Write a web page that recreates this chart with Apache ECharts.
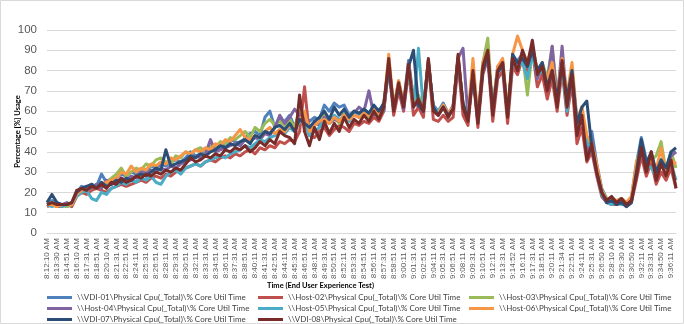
<!DOCTYPE html>
<html>
<head>
<meta charset="utf-8">
<script src="https://cdn.jsdelivr.net/npm/echarts@6/dist/echarts.min.js"></script>
<style>html,body{margin:0;padding:0;background:#fff}#c{width:684px;height:324px}</style>
</head>
<body>
<div id="c"></div>
<script>
const tickLabels = ['8:12:10 AM','8:13:30 AM','8:14:51 AM','8:16:10 AM','8:17:31 AM','8:18:51 AM','8:20:10 AM','8:21:31 AM','8:22:51 AM','8:24:11 AM','8:25:31 AM','8:26:51 AM','8:28:11 AM','8:29:31 AM','8:30:51 AM','8:32:11 AM','8:33:31 AM','8:34:51 AM','8:36:11 AM','8:37:31 AM','8:38:51 AM','8:40:11 AM','8:41:31 AM','8:42:51 AM','8:44:11 AM','8:45:31 AM','8:46:51 AM','8:48:11 AM','8:49:31 AM','8:50:51 AM','8:52:11 AM','8:53:31 AM','8:54:51 AM','8:56:11 AM','8:57:31 AM','8:58:51 AM','9:00:11 AM','9:01:31 AM','9:02:51 AM','9:04:11 AM','9:05:31 AM','9:06:51 AM','9:08:11 AM','9:09:31 AM','9:10:51 AM','9:12:11 AM','9:13:31 AM','9:14:52 AM','9:16:11 AM','9:17:31 AM','9:18:51 AM','9:20:11 AM','9:21:34 AM','9:22:51 AM','9:24:11 AM','9:25:31 AM','9:26:50 AM','9:28:10 AM','9:29:30 AM','9:30:50 AM','9:32:11 AM','9:33:31 AM','9:34:50 AM','9:36:11 AM'];

const seriesNames = ['\\\\VDI-01\\Physical Cpu(_Total)\\% Core Util Time','\\\\Host-02\\Physical Cpu(_Total)\\% Core Util Time','\\\\Host-03\\Physical Cpu(_Total)\\% Core Util Time','\\\\Host-04\\Physical Cpu(_Total)\\% Core Util Time','\\\\Host-05\\Physical Cpu(_Total)\\% Core Util Time','\\\\Host-06\\Physical Cpu(_Total)\\% Core Util Time','\\\\VDI-07\\Physical Cpu(_Total)\\% Core Util Time','\\\\VDI-08\\Physical Cpu(_Total)\\% Core Util Time'];

const vdi01 = [15,16,14,14,13,14,20,23,22,24,23,29,25,26,27,29,
28,30,29,31,30,33,32,34,33,35,36,35,37,40,38,39,
41,40,43,42,44,46,45,44,47,49,50,48,57,60,52,56,
55,58,52,60,58,55,57,56,63,60,64,62,63,58,60,57,
60,58,61,59,62,80,63,72,64,85,66,62,61,82,63,60,
64,59,62,84,63,58,78,57,80,86,62,82,83,60,84,85,
88,84,92,80,78,72,82,66,86,64,80,55,60,42,50,34,
22,17,16,15,16,15,17,34,47,36,38,30,36,32,38,40];
const host02 = [13,14,13,13,14,13,18,20,19,21,22,21,20,22,23,24,
23,24,25,26,25,27,28,27,29,28,30,31,32,33,34,33,
35,36,35,37,38,37,39,38,40,41,39,42,41,43,42,45,
44,46,45,50,72,48,47,50,52,48,51,53,52,50,54,53,
55,54,57,55,60,82,58,70,60,80,58,62,57,84,56,55,
58,55,57,84,58,53,78,52,78,86,55,76,80,54,82,78,
86,80,90,72,78,66,76,60,80,58,74,44,52,35,40,28,
18,15,14,14,15,13,15,26,38,28,35,24,30,26,32,22];
const host03 = [14,15,14,14,13,14,19,21,22,22,24,23,25,27,29,32,
28,30,32,31,34,33,36,37,35,34,38,37,40,39,41,42,
40,43,42,45,44,47,46,48,50,47,52,50,54,56,53,55,
53,56,52,60,56,52,54,53,58,55,57,54,59,56,60,58,
59,57,62,58,64,84,61,75,63,84,64,68,62,85,61,59,
63,58,62,87,64,56,82,55,84,96,60,81,85,58,86,82,
88,68,90,80,84,76,92,68,84,66,78,52,62,45,44,32,
21,17,16,16,17,15,16,30,40,34,36,38,45,30,40,32];
const host04 = [14,14,15,14,15,14,20,22,23,22,24,22,26,24,25,27,
26,28,27,30,29,31,30,32,31,33,32,34,35,36,38,37,
39,46,40,41,42,43,44,43,46,45,47,46,49,48,52,58,
54,57,61,58,56,50,55,53,57,54,56,55,58,57,59,62,
60,70,58,61,60,84,62,73,61,84,63,64,60,85,61,58,
62,58,63,86,91,57,80,56,82,88,60,80,84,59,85,82,
88,82,92,76,82,74,92,65,92,64,80,50,58,40,46,30,
20,16,15,15,16,14,16,30,40,32,38,30,35,30,38,40];
const host05 = [14,13,14,13,14,14,18,20,21,17,16,20,19,22,23,25,
24,26,25,27,26,28,25,24,28,30,31,29,32,33,34,33,
35,36,37,38,37,39,40,41,43,42,44,46,45,47,48,50,
49,52,50,55,54,48,50,52,56,54,58,56,57,55,59,58,
61,59,62,60,63,84,62,74,63,80,62,91,61,84,62,60,
63,57,62,86,63,58,80,56,83,88,61,80,82,60,84,82,
84,76,88,78,80,74,78,64,82,60,78,52,56,44,42,32,
19,15,14,15,14,14,16,30,44,34,32,28,36,30,34,26];
const host06 = [14,14,13,14,14,14,19,21,22,23,22,24,25,26,27,30,
29,33,30,32,31,34,33,35,34,37,36,38,40,39,41,40,
42,41,44,43,46,45,48,51,47,46,48,47,50,52,49,51,
50,53,51,55,60,50,53,55,56,54,57,55,58,56,58,57,
59,58,61,59,63,88,62,75,64,82,63,65,61,85,60,59,
63,59,62,87,63,57,86,56,84,90,60,82,86,60,88,97,
90,84,92,80,82,76,84,66,86,68,84,56,62,48,44,34,
21,16,17,16,17,15,18,35,42,33,37,31,42,28,36,34];
const vdi07 = [15,19,15,14,14,15,20,22,23,24,22,25,23,24,26,25,
27,26,28,29,28,30,32,31,41,33,34,35,36,38,37,39,
38,40,41,43,42,44,43,45,46,44,48,47,50,49,52,53,
51,54,50,56,54,52,55,57,60,56,62,58,61,57,60,59,
61,59,63,60,64,82,61,72,63,82,90,63,60,84,62,58,
62,58,61,86,64,56,78,55,80,88,60,79,83,58,88,84,
86,82,90,80,84,72,80,66,84,66,80,54,62,65,42,30,
20,15,16,14,15,13,15,30,46,34,40,30,36,32,40,42];
const vdi08 = [14,15,14,14,14,15,21,22,21,23,22,24,22,25,24,27,
25,26,28,27,29,28,30,29,31,30,32,31,34,37,35,36,
38,37,39,38,41,40,42,41,43,40,42,45,43,46,44,50,
48,47,44,68,50,43,52,46,55,49,54,50,57,52,56,54,
58,55,60,56,62,86,60,74,62,83,62,66,60,86,60,58,
62,57,61,88,62,55,80,54,82,90,58,80,84,57,86,80,
90,83,95,78,82,70,80,62,85,62,78,48,58,36,44,30,
20,16,18,15,17,14,16,28,42,30,40,26,34,28,36,22];

const seriesValues = [vdi01, host02, host03, host04, host05, host06, vdi07, vdi08];
const colors = ['#4F81BD','#C0504D','#9BBB59','#8064A2','#4BACC6','#F79646','#2C4D75','#772C2A'];

// categories: each tick label plus the 40-second sample after it
function addSec(label, s) {
  const m = label.match(/(\d+):(\d+):(\d+) (AM|PM)/);
  let t = (+m[1]) * 3600 + (+m[2]) * 60 + (+m[3]) + s;
  const h = Math.floor(t / 3600), mi = Math.floor((t % 3600) / 60), se = t % 60;
  return h + ':' + String(mi).padStart(2, '0') + ':' + String(se).padStart(2, '0') + ' ' + m[4];
}
const categories = [];
tickLabels.forEach(l => { categories.push(l); categories.push(addSec(l, 40)); });

const chart = echarts.init(document.getElementById('c'), null, {renderer: 'canvas'});
chart.setOption({
  animation: false,
  backgroundColor: '#fff',
  color: colors,
  grid: {left: 47, right: 8, top: 30, bottom: 91, containLabel: false},
  title: {
    text: 'Time (End User Experience Test)',
    left: 267, top: 282, padding: 0,
    textStyle: {fontSize: 7.5, fontWeight: 'bold', color: '#000', fontFamily: 'Lato'}
  },
  legend: {
    data: seriesNames,
    left: 47, top: 292, width: 640, padding: 0,
    itemGap: 0, itemWidth: 25, itemHeight: 3, icon: 'rect',
    textStyle: {fontSize: 8, color: '#404040', fontFamily: 'Lato', width: 181, lineHeight: 11}
  },
  xAxis: {
    type: 'category',
    data: categories,
    boundaryGap: false,
    axisLine: {show: true, lineStyle: {color: '#d9d9d9'}},
    axisTick: {show: false},
    axisLabel: {interval: 1, rotate: 90, fontSize: 8, color: '#595959', margin: 5, fontFamily: 'Liberation Sans'},
    splitLine: {show: false}
  },
  yAxis: {
    type: 'value', min: 0, max: 100, interval: 10,
    name: 'Percentage [%] Usage',
    nameLocation: 'middle', nameRotate: 90, nameGap: 25, nameMoveOverlap: false,
    nameTextStyle: {fontSize: 7.5, fontWeight: 'bold', color: '#000', fontFamily: 'Lato'},
    axisLine: {show: false}, axisTick: {show: false},
    axisLabel: {fontSize: 11.5, color: '#595959', margin: 10, fontFamily: 'Liberation Sans'},
    splitLine: {lineStyle: {color: '#d9d9d9', width: 1}}
  },
  graphic: [{
    type: 'rect', shape: {x: 0.5, y: 0.5, width: 683, height: 323},
    style: {fill: 'none', stroke: '#d9d9d9', lineWidth: 1}, silent: true
  }],
  series: seriesValues.map((vals, k) => ({
    name: seriesNames[k],
    type: 'line',
    data: vals,
    showSymbol: false,
    symbol: 'none',
    lineStyle: {width: 3, color: colors[k], join: 'round'},
    itemStyle: {color: colors[k]}
  }))
});
</script>
</body>
</html>
